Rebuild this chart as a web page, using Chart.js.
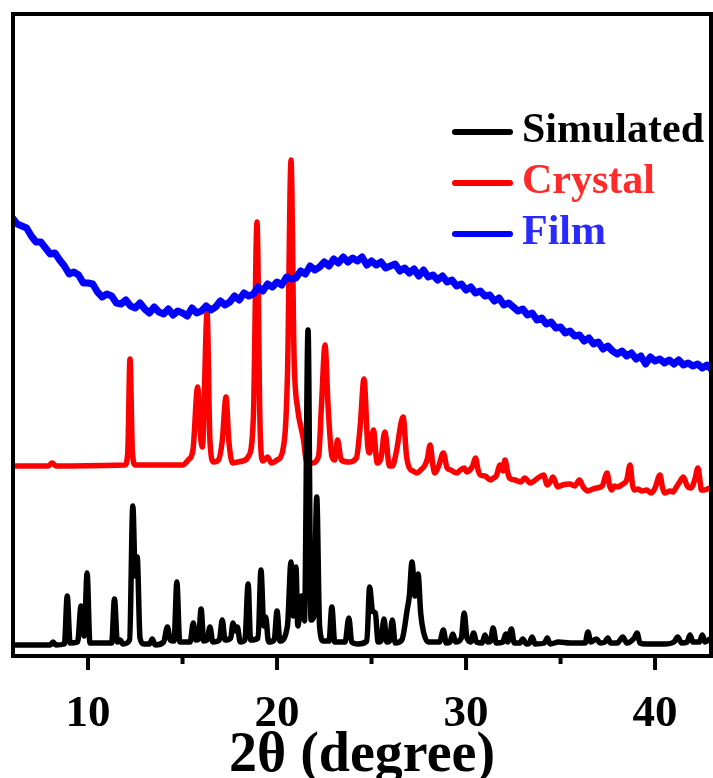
<!DOCTYPE html>
<html><head><meta charset="utf-8">
<script src="https://cdn.jsdelivr.net/npm/chart.js@4/dist/chart.umd.min.js"></script>
<style>html,body{margin:0;padding:0;background:#fff;overflow:hidden}</style>
</head><body>
<canvas id="c" width="713" height="778"></canvas>
<script>
// ---- data (2θ in degrees, intensity in arbitrary units, offset stacked) ----
const seriesNames = ['Simulated', 'Crystal', 'Film'];
const xTicks = [10, 20, 30, 40];
const xMinorTicks = [15, 25, 35];
const xRange = [6.03, 42.96];
const yRange = [0, 642];

const simulated = [[6.0,11],[8.0,11],[8.15,14],[8.3,11],
[8.75,12],[8.9,60],[9.05,13],
[9.45,14],[9.63,50],[9.8,20],[9.95,83],[10.1,13],
[11.25,13],[11.4,57],[11.55,14],[11.7,16],[11.85,12],
[12.2,16],[12.37,150],[12.5,80],[12.6,99],[12.75,18],[12.95,12],
[13.25,12],[13.4,17],[13.55,11],
[14.0,14],[14.2,29],[14.35,16],[14.55,15],[14.7,74],[14.85,14],
[15.4,14],[15.57,33],[15.7,16],[15.85,17],[15.98,47],[16.12,15],[16.3,16],[16.45,29],[16.6,14],
[16.95,16],[17.1,36],[17.25,16],[17.55,18],[17.67,33],[17.8,25],[17.9,29],[18.05,14],
[18.3,16],[18.47,72],[18.6,16],[19.0,18],[19.15,86],[19.3,30],[19.4,39],[19.55,14],
[19.85,16],[20.0,45],[20.15,15],
[20.55,30],[20.74,94],[20.85,40],[21.0,89],[21.1,30],[21.3,60],[21.45,35],[21.64,326],[21.8,36],[21.95,40],[22.1,159],[22.25,30],[22.45,15],
[22.75,15],[22.9,49],[23.05,14],[23.6,14],[23.8,38],[23.95,14],[24.3,12],
[24.75,15],[24.9,69],[25.05,45],[25.2,43],[25.35,14],[25.5,15],[25.66,37],[25.8,14],[25.95,15],[26.1,36],[26.25,13],
[26.6,16],[26.9,48],[27.0,60],[27.14,94],[27.3,60],[27.46,82],[27.6,43],[27.75,24],[28.0,14],
[28.6,14],[28.8,26],[28.95,13],[29.15,14],[29.3,22],[29.45,14],[29.75,18],[29.9,43],[30.05,18],[30.25,14],[30.4,23],[30.55,14],
[30.85,13],[31.0,21],[31.15,14],[31.3,15],[31.43,28],[31.6,13],[31.95,14],[32.1,22],[32.2,14],[32.4,27],[32.55,13],
[32.85,13],[33.0,17],[33.2,12],[33.35,13],[33.5,19],[33.65,12],[34.15,13],[34.3,18],[34.45,12],[34.9,14],[35.5,13],
[36.3,13],[36.45,24],[36.6,14],[36.9,17],[37.1,13],[37.35,14],[37.5,18],[37.65,13],[38.0,13],[38.3,19],[38.5,13],
[38.9,18],[39.05,23],[39.2,13],[39.5,12],[40.5,12],[41.0,14],[41.2,19],[41.4,13],[41.7,14],[41.85,21],[42.0,14],
[42.35,14],[42.5,21],[42.65,14],[42.9,17]];

const crystal = [[6.0,190],[7.9,190],[8.1,193],[8.3,190],[11.95,191],[12.1,203],[12.22,297],[12.35,203],[12.5,191],
[15.0,191],[15.3,196],[15.55,206],[15.8,269],[15.95,220],[16.05,209],[16.3,343],[16.45,215],[16.65,194],
[16.9,196],[17.1,215],[17.3,259],[17.45,215],[17.65,193],[17.9,194],[18.2,195],[18.5,200],[18.75,240],[18.94,434],
[19.1,230],[19.25,195],[19.5,199],[19.7,193],[20.0,196],[20.3,205],[20.55,280],[20.74,496],[20.9,300],[21.1,246],
[21.25,230],[21.4,216],[21.55,195],[21.85,193],[22.2,200],[22.35,250],[22.54,311],[22.7,250],[22.9,200],[23.05,196],
[23.2,216],[23.4,196],[23.8,194],[24.2,198],[24.4,230],[24.6,277],[24.8,210],[24.9,203],[25.1,226],[25.3,193],
[25.5,198],[25.7,224],[25.95,190],[26.1,190],[26.3,203],[26.67,239],[26.85,200],
[27.0,188],[27.2,185],[27.4,183],[27.6,186],[27.8,190],[27.95,197],[28.1,211],[28.25,190],[28.35,183],[28.55,190],
[28.8,203],[29.0,188],[29.2,186],[29.5,183],[29.7,186],[29.9,188],[30.05,184],[30.2,186],[30.35,190],[30.5,198],
[30.65,185],[30.75,181],[31.0,180],[31.3,176],[31.45,178],[31.6,180],[31.8,191],[31.95,185],[32.06,196],[32.2,184],
[32.3,178],[32.6,176],[32.9,174],[33.1,178],[33.4,173],[33.6,175],[33.8,178],[34.1,181],[34.3,171],[34.45,174],
[34.6,179],[34.85,169],[35.1,171],[35.5,172],[35.75,170],[36.0,176],[36.2,169],[36.45,165],[36.7,167],[36.9,168],
[37.2,170],[37.46,183],[37.6,170],[37.7,166],[37.85,170],[38.0,169],[38.3,172],[38.5,176],[38.68,191],[38.8,172],
[38.9,166],[39.1,167],[39.3,165],[39.55,166],[39.8,163],[40.0,168],[40.26,181],[40.4,168],[40.5,163],[40.8,165],
[40.95,164],[41.1,168],[41.3,174],[41.5,179],[41.7,170],[41.9,168],[42.1,176],[42.27,188],[42.4,172],[42.45,166],
[42.6,166],[42.9,168]];

const film = [[6.0,438],[6.25,432],[6.5,430],[6.75,428],[7.0,420],[7.25,414],[7.5,414],[7.75,408],[8.0,402],[8.25,403],
[8.5,396],[8.75,390],[9.0,382],[9.25,384],[9.5,381],[9.75,373],[10.0,373],[10.25,372],[10.5,364],[10.75,359],
[11.0,362],[11.25,360],[11.5,353],[11.75,352],[12.0,356],[12.25,350],[12.5,348],[12.75,353],[13.0,347],[13.25,343],
[13.5,349],[13.75,344],[14.0,342],[14.25,347],[14.5,341],[14.75,345],[15.0,343],[15.25,340],[15.5,348],[15.75,343],
[16.0,345],[16.25,350],[16.5,346],[16.75,349],[17.0,355],[17.25,351],[17.5,354],[17.75,360],[18.0,356],[18.25,363],
[18.5,360],[18.75,362],[19.0,369],[19.25,365],[19.5,372],[19.75,369],[20.0,374],[20.25,371],[20.5,379],[20.75,377],
[21.0,378],[21.25,385],[21.5,382],[21.75,390],[22.0,386],[22.25,389],[22.5,394],[22.75,390],[23.0,397],[23.25,393],
[23.5,399],[23.75,394],[24.0,398],[24.25,395],[24.5,399],[24.75,391],[25.0,395],[25.25,391],[25.5,394],[25.75,388],
[26.0,390],[26.25,392],[26.5,385],[26.75,388],[27.0,383],[27.25,387],[27.5,380],[27.75,386],[28.0,379],[28.25,381],
[28.5,376],[28.75,380],[29.0,374],[29.25,376],[29.5,370],[29.75,372],[30.0,366],[30.25,369],[30.5,363],[30.75,365],
[31.0,360],[31.25,361],[31.5,355],[31.75,358],[32.0,351],[32.25,353],[32.5,349],[32.75,345],[33.0,347],[33.25,341],
[33.5,343],[33.75,336],[34.0,338],[34.25,332],[34.5,334],[34.75,328],[35.0,329],[35.25,323],[35.5,325],[35.75,320],
[36.0,321],[36.25,315],[36.5,318],[36.75,312],[37.0,314],[37.25,307],[37.5,310],[37.75,305],[38.0,302],[38.25,305],
[38.5,300],[38.75,303],[39.0,297],[39.25,300],[39.5,292],[39.75,299],[40.0,295],[40.25,297],[40.5,293],[40.75,296],
[41.0,292],[41.25,296],[41.5,291],[41.75,293],[42.0,290],[42.25,292],[42.5,288],[42.75,291],[42.96,287]];

// ---- chart ----
const FONT = "'Liberation Serif', 'Times New Roman', serif";
const toPts = a => a.map(([x, y]) => ({ x, y }));

const framePlugin = {
  id: 'frameTicksLegend',
  afterDatasetsDraw(chart) {
    const { ctx, chartArea: a, scales: { x } } = chart;
    ctx.save();
    ctx.strokeStyle = '#000';
    ctx.lineWidth = 4;
    ctx.lineCap = 'butt';
    ctx.strokeRect(a.left, a.top, a.right - a.left, a.bottom - a.top);
    xTicks.forEach(v => {
      const px = x.getPixelForValue(v);
      ctx.beginPath(); ctx.moveTo(px, a.bottom); ctx.lineTo(px, a.bottom + 14); ctx.stroke();
    });
    xMinorTicks.forEach(v => {
      const px = x.getPixelForValue(v);
      ctx.beginPath(); ctx.moveTo(px, a.bottom); ctx.lineTo(px, a.bottom + 8); ctx.stroke();
    });
    // legend
    const rows = [142, 193, 244];
    const textColors = ['#000000', '#ff2a2a', '#2a2aff'];
    seriesNames.forEach((name, i) => {
      const ds = chart.data.datasets[i];
      const y = rows[i];
      ctx.strokeStyle = ds.borderColor;
      ctx.lineWidth = 6;
      ctx.lineCap = 'round';
      ctx.beginPath(); ctx.moveTo(455, y - 10); ctx.lineTo(510, y - 10); ctx.stroke();
      ctx.fillStyle = textColors[i];
      ctx.font = 'bold 42px ' + FONT;
      ctx.textBaseline = 'alphabetic';
      ctx.textAlign = 'left';
      ctx.fillText(name, 522, y);
    });
    ctx.restore();
  }
};

new Chart(document.getElementById('c'), {
  type: 'line',
  data: {
    datasets: [
      { label: seriesNames[0], data: toPts(simulated), borderColor: '#000000', borderWidth: 5.5,
        cubicInterpolationMode: 'monotone', order: 1 },
      { label: seriesNames[1], data: toPts(crystal), borderColor: '#ff0000', borderWidth: 5.5,
        cubicInterpolationMode: 'monotone', order: 2 },
      { label: seriesNames[2], data: toPts(film), borderColor: '#0000ff', borderWidth: 7, order: 0 }
    ]
  },
  options: {
    responsive: false,
    animation: false,
    devicePixelRatio: 1,
    elements: {
      point: { radius: 0 },
      line: { tension: 0, borderJoinStyle: 'round', borderCapStyle: 'round' }
    },
    layout: { padding: { left: 13, right: 2, top: 14, bottom: 0 } },
    plugins: { legend: { display: false }, tooltip: { enabled: false } },
    scales: {
      x: {
        type: 'linear',
        min: xRange[0], max: xRange[1],
        afterBuildTicks: s => { s.ticks = xTicks.map(v => ({ value: v })); },
        afterFit: s => { s.height = 122; },
        grid: { display: false, drawTicks: false, tickLength: 0 },
        border: { display: false },
        ticks: { padding: 31, autoSkip: false, maxRotation: 0, color: '#000',
                 font: { family: FONT, size: 45, weight: 'bold' } },
        title: { display: true, text: '2θ (degree)', color: '#000', padding: { top: 0, bottom: -12 },
                 font: { family: FONT, size: 56, weight: 'bold' } }
      },
      y: { display: false, min: yRange[0], max: yRange[1] }
    }
  },
  plugins: [framePlugin]
});
</script>
</body></html>
